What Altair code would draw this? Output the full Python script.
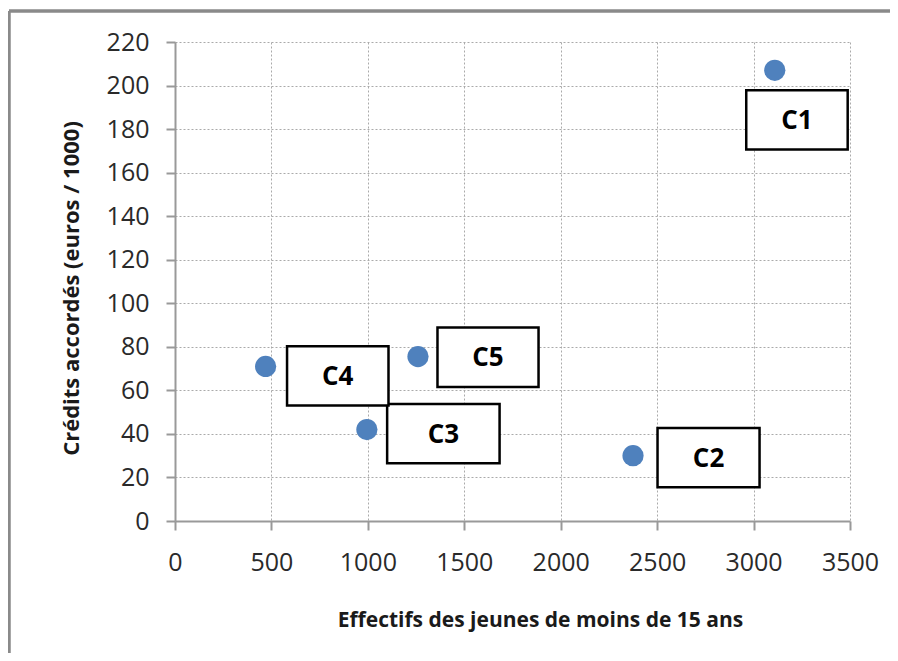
import altair as alt
import pandas as pd

# Points
names = ["C1", "C2", "C3", "C4", "C5"]
effectifs = [3110, 2375, 995, 470, 1260]
credits = [207, 30, 42, 71, 75.5]

# Label boxes (data units)
box_x0 = [2962, 2502, 1100, 581, 1361]
box_x1 = [3488, 3031, 1683, 1107, 1885]
box_y0 = [170.6, 15.5, 26.5, 53.1, 61.5]
box_y1 = [197.8, 42.7, 53.7, 80.3, 88.9]

x_ticks = [0, 500, 1000, 1500, 2000, 2500, 3000, 3500]
y_ticks = [0, 20, 40, 60, 80, 100, 120, 140, 160, 180, 200, 220]

pts = pd.DataFrame({"name": names, "x": effectifs, "y": credits})
boxes = pd.DataFrame({"name": names, "x0": box_x0, "x1": box_x1, "y0": box_y0, "y1": box_y1})
boxes["xc"] = (boxes["x0"] + boxes["x1"]) / 2
boxes["yc"] = (boxes["y0"] + boxes["y1"]) / 2

FONT = "Open Sans"
W, H = 675, 479

xscale = alt.Scale(domain=[0, 3500], nice=False, zero=False)
yscale = alt.Scale(domain=[0, 220], nice=False, zero=False)

xaxis = alt.Axis(values=x_ticks, format="d", title="Effectifs des jeunes de moins de 15 ans",
                 titleX=365, titleY=105, titleBaseline="alphabetic", titleAnchor="middle",
                 labelPadding=20, tickSize=9, labelFlush=False, labelOverlap=False)
yaxis = alt.Axis(values=y_ticks, format="d", title="Crédits accordés (euros / 1000)",
                 titleX=-97, titleY=246, titleBaseline="alphabetic", titleAngle=270,
                 titleFontSize=22, labelPadding=17, tickSize=9, labelFlush=False,
                 labelOverlap=False)

points = alt.Chart(pts).mark_circle(size=450, color="#4f81bd", opacity=1).encode(
    x=alt.X("x:Q", scale=xscale, axis=xaxis),
    y=alt.Y("y:Q", scale=yscale, axis=yaxis),
)

rects = alt.Chart(boxes).mark_rect(fill="white", stroke="black", strokeWidth=2.5).encode(
    x=alt.X("x0:Q", scale=xscale), x2="x1:Q",
    y=alt.Y("y0:Q", scale=yscale), y2="y1:Q",
)

labels = alt.Chart(boxes).mark_text(font=FONT, fontSize=26, fontWeight="bold",
                                    color="black", baseline="middle", align="center", dy=1).encode(
    x=alt.X("xc:Q", scale=xscale), y=alt.Y("yc:Q", scale=yscale), text="name:N"
)

border_left = alt.Chart(pts).mark_rule(color="#8a8a8a", strokeWidth=2.5).encode(
    x=alt.value(-166), y=alt.value(-31), y2=alt.value(H + 300)
)
border_top = alt.Chart(pts).mark_rule(color="#8a8a8a", strokeWidth=2.5).encode(
    y=alt.value(-31), x=alt.value(-166), x2=alt.value(W + 300)
)

chart = alt.layer(border_left, border_top, points, rects, labels).properties(
    width=W, height=H, autosize="none",
    padding={"left": 167, "top": 34, "right": 40, "bottom": 132},
).configure(background="white").configure_view(stroke=None).configure_axis(
    labelFont=FONT, labelFontSize=25, labelColor="#2a2a2a",
    titleFont=FONT, titleFontSize=21, titleFontWeight="bold", titleColor="#1a1a1a",
    domainColor="#999999", domainWidth=2, tickColor="#999999", tickWidth=2,
    gridColor="#aaaaaa", gridDash=[2, 2], gridWidth=1,
)

chart.save("out.html", embed_options={"renderer": "svg", "actions": False})
